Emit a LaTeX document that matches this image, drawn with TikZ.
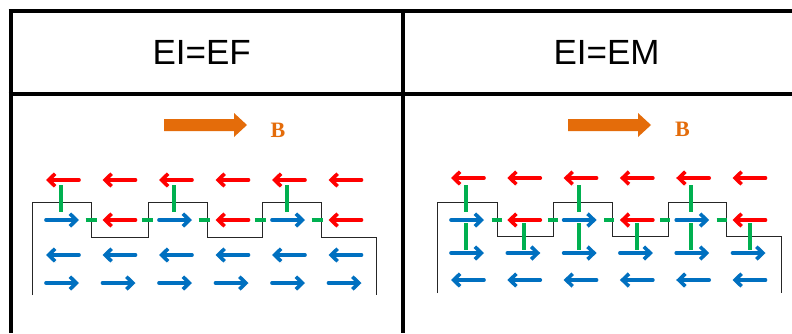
\documentclass[tikz,border=0pt]{standalone}
\usepackage{fontspec}
\setmainfont{Liberation Sans}
\newfontfamily\serifB{Liberation Serif}
\usetikzlibrary{arrows.meta}
\definecolor{spinred}{HTML}{FF0000}
\definecolor{spinblue}{HTML}{0070C0}
\definecolor{bondgreen}{HTML}{00B050}
\definecolor{fieldorange}{HTML}{E46C0A}
\begin{document}
\begin{tikzpicture}[x=1pt,y=-1pt,
  spin/.style={line width=3.6pt, line cap=round,
    -{Straight Barb[length=6.5pt,width=12.5pt,line width=3.6pt]},
    preaction={draw=black!35, opacity=0.35,
      transform canvas={xshift=0.8pt,yshift=-1.3pt}}},
  redspin/.style={spin, draw=spinred},
  bluespin/.style={spin, draw=spinblue},
  bond/.style={bondgreen, line width=4pt},
  stepline/.style={black!85, line width=0.9pt},
  tableline/.style={black, line width=3.8pt},
  title/.style={font=\fontsize{35}{40}\selectfont, anchor=base},
  fieldlabel/.style={font=\serifB\bfseries\fontsize{22}{26}\selectfont, text=fieldorange, anchor=base},
  fieldarrow/.style={fill=fieldorange, draw=none}
]
\useasboundingbox (0,0) rectangle (792,333);
\fill[white] (0,0) rectangle (792,333);

% table
\draw[tableline] (8.6,11) -- (792,11);
\draw[tableline] (8.6,93.8) -- (792,93.8);
\draw[tableline] (10.6,9.1) -- (10.6,333);
\draw[tableline] (403.2,9.1) -- (403.2,333);

\node[title] (tEF) at (201.7,64) {EI=EF};
\node[title] (tEM) at (606.5,64) {EI=EM};

% field arrows
\path[fieldarrow] (164,119) -- (234,119) -- (234,113) -- (247,125) -- (234,137) -- (234,131) -- (164,131) -- cycle;
\node[fieldlabel] (bL) at (278,137.3) {B};
\path[fieldarrow] (568,119) -- (638,119) -- (638,113) -- (651,125) -- (638,137) -- (638,131) -- (568,131) -- cycle;
\node[fieldlabel] (bR) at (682.5,136.7) {B};

% ---------- left panel (EI=EF) ----------
\draw[stepline] (32.7,295) -- (32.7,202.7) -- (91,202.7) -- (91,237.7) -- (148,237.7) -- (148,202.7)
  -- (207.7,202.7) -- (207.7,237.7) -- (262.7,237.7) -- (262.7,202.7) -- (321.7,202.7)
  -- (321.7,237.7) -- (376.7,237.7) -- (376.7,295);
\foreach \i in {0,...,5}{
  \pgfmathsetmacro\cx{62.5+56.5*\i}
  \pgfmathsetmacro\ca{\cx-16.5}
  \pgfmathsetmacro\cb{\cx+16.5}
  \ifodd\i\else
    \draw[bond] (\cx-1.5,185) -- (\cx-1.5,212);
  \fi
  \ifnum\i<5
    \draw[bond] (\cx+23,220) -- (\cx+34,220);
  \fi
  \draw[redspin] (\cb,180) -- (\ca,180);
  \ifodd\i
    \draw[redspin] (\cb,220) -- (\ca,220);
  \else
    \draw[bluespin] (\ca,220) -- (\cb,220);
  \fi
  \draw[bluespin] (\cb,255) -- (\ca,255);
  \draw[bluespin] (\ca,283) -- (\cb,283);
}

% ---------- right panel (EI=EM) ----------
\draw[stepline] (437,293) -- (437,202.7) -- (497,202.7) -- (497,236.7) -- (553,236.7) -- (553,202.7)
  -- (612,202.7) -- (612,236.7) -- (668,236.7) -- (668,202.7) -- (726,202.7)
  -- (726,236.7) -- (781.7,236.7) -- (781.7,293);
\foreach \i in {0,...,5}{
  \pgfmathsetmacro\cx{467.5+56.3*\i}
  \pgfmathsetmacro\ca{\cx-16.5}
  \pgfmathsetmacro\cb{\cx+16.5}
  \ifodd\i
    \draw[bond] (\cx+0.5,223) -- (\cx+0.5,250);
  \else
    \draw[bond] (\cx-1.5,185) -- (\cx-1.5,212);
    \draw[bond] (\cx-1.5,223) -- (\cx-1.5,250);
  \fi
  \ifnum\i<5
    \draw[bond] (\cx+24,220) -- (\cx+34,220);
  \fi
  \draw[redspin] (\cb,178) -- (\ca,178);
  \ifodd\i
    \draw[redspin] (\cb,220) -- (\ca,220);
  \else
    \draw[bluespin] (\ca,220) -- (\cb,220);
  \fi
  \draw[bluespin] (\ca,253) -- (\cb,253);
  \draw[bluespin] (\cb,280) -- (\ca,280);
}
\end{tikzpicture}
\end{document}
